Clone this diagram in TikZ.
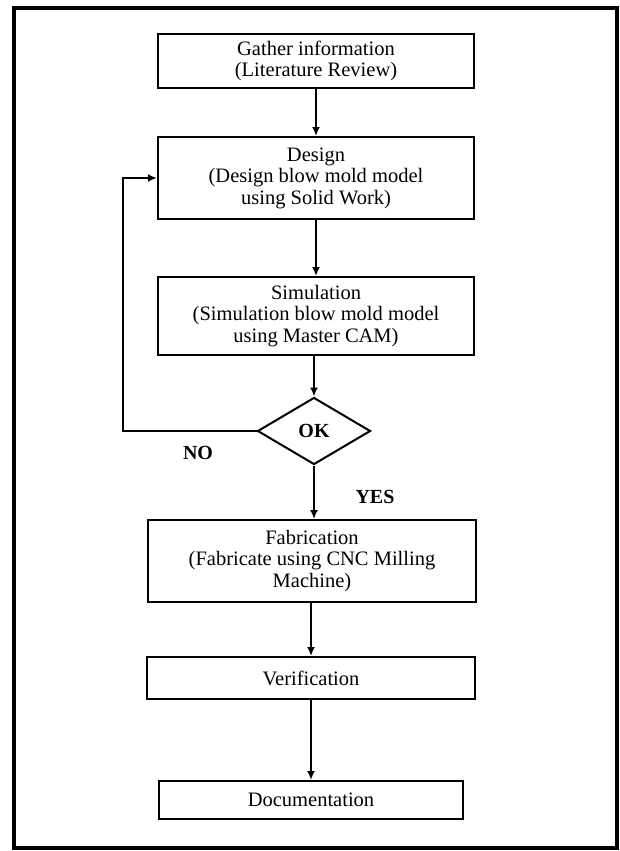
\documentclass[tikz,border=0pt]{standalone}
\usepackage{fontspec}
\setmainfont{Liberation Serif}
\usetikzlibrary{shapes.geometric,arrows.meta}
\tikzset{
  stepbox/.style={draw=black, line width=2bp, rectangle, inner sep=0pt, align=center,
    font=\fontsize{20.5bp}{21.5bp}\selectfont},
  decision/.style={draw=black, line width=2bp, diamond, inner sep=0pt,
    font=\fontsize{20bp}{22bp}\selectfont\bfseries},
  flow/.style={draw=black, line width=2bp, -{Latex[length=9bp,width=8bp]}},
  lbl/.style={inner sep=0pt, font=\fontsize{20bp}{22bp}\selectfont\bfseries}
}
\begin{document}
\begin{tikzpicture}[x=1bp,y=-1bp]
\useasboundingbox (0,0) rectangle (620,851);
\fill[white] (0,0) rectangle (620,851);
\draw[line width=4bp] (14,8) rectangle (617,848);

\node[stepbox, minimum width=316bp, minimum height=54bp] (gather) at (316,61)
  {Gather information\\(Literature Review)};
\node[stepbox, minimum width=316bp, minimum height=82bp] (design) at (316,178)
  {Design\\(Design blow mold model\\using Solid Work)};
\node[stepbox, minimum width=316bp, minimum height=78bp] (sim) at (316,316)
  {Simulation\\(Simulation blow mold model\\using Master CAM)};
\node[decision, minimum width=113bp, minimum height=67bp] (ok) at (314,431) {OK};
\node[stepbox, minimum width=328bp, minimum height=82bp] (fab) at (312,561)
  {Fabrication\\(Fabricate using CNC Milling\\Machine)};
\node[stepbox, minimum width=328bp, minimum height=42bp] (ver) at (311,678)
  {Verification};
\node[stepbox, minimum width=304bp, minimum height=38bp] (doc) at (311,800)
  {Documentation};

\coordinate (loop) at (123,431);

\draw[flow] (gather.south) -- (gather.south |- design.north);
\draw[flow] (design.south) -- (design.south |- sim.north);
\draw[flow] (ok.north |- sim.south) -- (ok.north);
\draw[flow] (ok.south) -- (ok.south |- fab.north);
\draw[flow] (ver.north |- fab.south) -- (ver.north);
\draw[flow] (ver.south) -- (ver.south |- doc.north);
\draw[flow] (ok.west) -- (loop) |- (design.west);

\node[lbl] (no) at (198,453) {NO};
\node[lbl] (yes) at (375,497) {YES};
\end{tikzpicture}
\end{document}
